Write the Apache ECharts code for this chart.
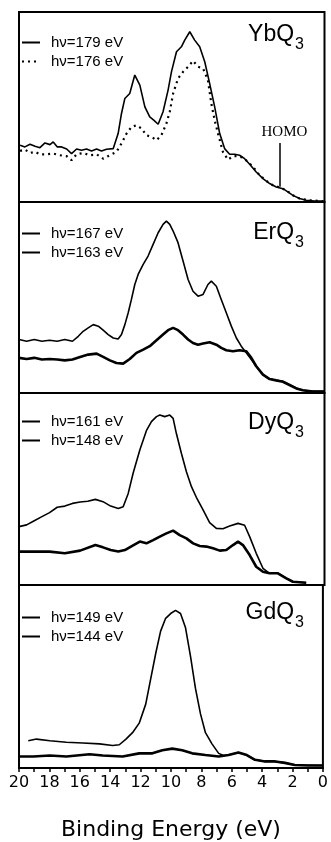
<!DOCTYPE html>
<html>
<head>
<meta charset="utf-8">
<script src="https://cdn.jsdelivr.net/npm/echarts@6/dist/echarts.min.js"></script>
<style>
html,body{margin:0;padding:0;background:#fff;}
#chart{width:331px;height:842px;}
</style>
</head>
<body>
<div id="chart"></div>
<script>
// ---- data: [binding energy (eV), intensity (arb. units, 0-100 of panel)] ----
const panelNames = ['YbQ', 'ErQ', 'DyQ', 'GdQ'];
const seriesNames = [
  ['hν=179 eV', 'hν=176 eV'],
  ['hν=167 eV', 'hν=163 eV'],
  ['hν=161 eV', 'hν=148 eV'],
  ['hν=149 eV', 'hν=144 eV']
];
const xTicks = [20, 18, 16, 14, 12, 10, 8, 6, 4, 2, 0];

const yb179 = [[19.93,29.9],[19.61,29.0],[19.28,30.4],[18.95,29.3],[18.63,28.6],[18.30,31.1],[17.97,30.2],[17.76,31.6],[17.49,29.0],[17.21,29.0],[16.88,27.9],[16.56,25.5],[16.23,27.9],[15.90,27.2],[15.58,27.9],[15.25,26.9],[14.92,27.9],[14.60,26.9],[14.27,27.8],[13.83,28.1],[13.51,36.0],[13.29,46.6],[13.07,54.5],[12.75,57.1],[12.42,66.8],[12.09,61.5],[11.76,50.1],[11.44,44.8],[11.18,43.1],[10.89,40.9],[10.57,47.5],[10.24,58.9],[10.02,68.5],[9.69,79.1],[9.37,81.7],[9.15,85.2],[8.82,89.6],[8.50,85.2],[8.17,81.7],[7.84,73.8],[7.52,62.4],[7.19,50.1],[6.86,36.0],[6.54,28.1],[6.21,25.1],[5.88,25.1],[5.56,24.6],[5.23,22.8],[4.90,19.9],[4.47,15.8],[4.03,12.3],[3.59,9.7],[3.16,7.9],[2.72,7.0],[2.40,5.3],[2.07,3.5],[1.63,1.8],[1.20,0.9],[0.65,0.5],[0.0,0.5]];
const yb176 = [[19.93,26.9],[19.61,27.6],[19.28,25.8],[18.95,26.4],[18.63,25.1],[18.19,25.1],[17.76,25.5],[17.32,24.6],[16.88,24.1],[16.56,22.0],[16.23,25.1],[15.80,25.8],[15.36,24.6],[14.92,25.1],[14.49,22.8],[14.05,24.6],[13.62,26.4],[13.29,30.8],[12.96,36.0],[12.64,39.5],[12.31,40.4],[11.98,38.7],[11.66,35.1],[11.33,34.3],[11.00,32.5],[10.68,35.1],[10.35,41.3],[10.13,47.5],[9.91,57.1],[9.59,65.0],[9.26,68.5],[8.93,71.2],[8.61,74.3],[8.28,71.2],[7.95,70.3],[7.63,64.1],[7.41,51.8],[7.19,43.1],[6.97,36.0],[6.65,26.4],[6.32,22.3],[5.99,24.1],[5.66,24.1],[5.34,23.4],[5.01,21.1],[4.68,18.5],[4.25,14.1],[3.81,11.1],[3.38,8.8],[2.94,7.6],[2.51,6.2],[2.07,3.5],[1.63,1.8],[0.98,0.9],[0.11,0.5]];

const er167 = [[20,28.0],[19.5,27.1],[19.0,28.0],[18.5,27.1],[18.0,27.6],[17.5,27.1],[17.0,28.0],[16.5,27.1],[16.12,29.7],[15.80,32.3],[15.47,34.1],[15.14,35.8],[14.81,35.0],[14.49,32.9],[14.16,30.6],[13.83,28.8],[13.51,28.3],[13.29,30.6],[13.07,35.8],[12.85,42.0],[12.64,49.0],[12.42,56.8],[12.20,62.1],[11.87,67.3],[11.55,71.7],[11.22,77.8],[10.89,83.9],[10.57,88.3],[10.35,90.0],[10.13,88.3],[9.91,84.8],[9.59,78.7],[9.26,69.1],[8.93,59.4],[8.61,53.3],[8.28,50.7],[7.95,51.6],[7.63,56.8],[7.41,58.6],[7.08,55.9],[6.76,49.0],[6.43,42.0],[6.10,35.0],[5.77,28.8],[5.45,24.5],[5.12,21.0],[4.79,17.5],[4.47,14.0],[4.03,9.6],[3.59,7.3],[3.16,6.6],[2.72,6.1],[2.29,4.4],[1.85,2.6],[1.42,1.4],[0.76,0.9],[0,0.9]];
const er163 = [[20,18.4],[19.5,17.8],[19.0,18.4],[18.5,17.5],[18.0,17.8],[17.5,17.5],[17.0,17.1],[16.5,17.5],[16.0,18.9],[15.47,20.1],[14.92,20.6],[14.49,18.9],[14.05,17.1],[13.62,15.7],[13.18,15.4],[12.75,17.8],[12.31,21.0],[11.87,22.7],[11.44,24.5],[11.00,27.6],[10.57,30.6],[10.24,32.9],[9.91,34.1],[9.59,32.9],[9.26,30.6],[8.93,28.0],[8.61,26.2],[8.28,25.3],[7.95,25.9],[7.52,26.6],[7.08,25.3],[6.76,23.6],[6.43,22.4],[5.99,21.9],[5.56,22.4],[5.12,21.9],[4.79,18.4],[4.47,14.0],[4.03,9.6],[3.59,7.3],[3.16,6.6],[2.72,5.9],[2.29,4.2],[1.85,2.4],[1.42,1.4],[0.76,0.7],[0,0.7]];

const dy161 = [[20,30.4],[19.5,31.3],[19.0,33.5],[18.5,35.6],[18.0,37.7],[17.5,40.5],[17.0,41.1],[16.5,42.5],[16.0,43.2],[15.5,43.6],[15.0,44.6],[14.5,43.4],[14.0,41.1],[13.5,39.8],[13.18,40.8],[12.85,47.7],[12.53,58.2],[12.09,70.3],[11.66,80.4],[11.33,85.1],[11.0,87.7],[10.78,88.5],[10.46,87.7],[10.13,88.5],[9.91,86.8],[9.70,79.0],[9.37,68.6],[9.04,59.0],[8.71,51.2],[8.39,45.7],[7.95,39.1],[7.52,32.5],[7.08,29.5],[6.65,29.3],[6.21,30.7],[5.66,32.1],[5.23,31.1],[4.90,25.2],[4.47,16.5],[4.03,8.7],[3.60,6.1],[3.05,6.1],[2.50,3.5],[2.07,1.7],[1.20,1.2]];
const dy148 = [[20,17.4],[19.0,17.4],[18.0,17.4],[17.0,16.5],[16.0,17.9],[15.0,20.8],[14.5,19.6],[14.0,18.2],[13.5,17.4],[13.07,18.2],[12.5,20.8],[12.09,22.6],[11.66,21.7],[11.22,23.4],[10.78,25.2],[10.35,26.9],[9.91,28.3],[9.48,26.0],[9.04,24.3],[8.60,21.7],[8.17,20.3],[7.73,20.0],[7.30,19.1],[6.86,17.9],[6.43,18.2],[5.99,20.8],[5.66,22.6],[5.34,20.8],[4.90,15.6],[4.47,9.5],[4.03,6.9],[3.60,6.1],[3.05,6.1],[2.50,3.5],[2.07,1.7],[1.20,1.2]];

const gd149 = [[19.39,14.9],[18.85,15.8],[17.97,14.9],[16.88,14.1],[15.80,13.7],[14.70,13.2],[13.84,12.3],[13.40,12.7],[12.96,15.8],[12.53,19.3],[12.09,24.5],[11.66,34.9],[11.33,48.8],[11.00,62.7],[10.68,74.8],[10.35,81.8],[10.02,84.4],[9.70,86.1],[9.37,84.4],[9.04,76.6],[8.71,60.9],[8.39,43.6],[8.06,29.7],[7.73,19.3],[7.30,13.2],[6.86,8.0],[6.54,6.8],[6.21,7.1],[5.56,8.5],[5.01,7.1],[4.47,4.5],[3.81,3.6],[3.16,3.6],[2.50,2.8],[1.85,1.6],[0,1.4]];
const gd144 = [[20,6.3],[19.06,6.3],[17.97,6.8],[16.88,6.3],[15.36,7.5],[14.49,6.8],[13.18,6.3],[12.09,8.0],[11.22,8.0],[10.57,9.7],[9.91,10.6],[9.26,9.7],[8.60,8.0],[7.73,7.1],[6.86,6.3],[6.21,7.1],[5.56,8.5],[5.01,7.1],[4.47,4.5],[3.81,3.6],[3.16,3.6],[2.50,2.8],[1.85,1.6],[0.98,1.4],[0,1.4]];

const homoEnergy = 2.95;
const homoRange = [8, 31];

const panelData = [[yb179, yb176],[er167, er163],[dy161, dy148],[gd149, gd144]];

// ---- layout ----
const panelTops = [12, 202, 393, 585];
const panelHeights = [190, 191, 192, 192];
const gridLeft = 19, gridRight = 6.5;
const legendTops = [30, 221, 409, 605];
const titleTops = [18, 216, 406, 596];

const chart = echarts.init(document.getElementById('chart'), null, {renderer: 'canvas'});

const grid = [], xAxis = [], yAxis = [], series = [], legend = [], title = [];
for (let i = 0; i < 4; i++) {
  grid.push({left: gridLeft, right: gridRight, top: panelTops[i], height: panelHeights[i],
    show: true, borderColor: '#000', borderWidth: 2, backgroundColor: 'transparent'});
  const last = i === 3;
  xAxis.push({
    gridIndex: i, type: 'value', min: 0, max: 20, interval: 1, inverse: true,
    axisLine: {show: last, onZero: false, lineStyle: {color: '#000', width: 2}},
    axisTick: {show: last, length: 4, lineStyle: {color: '#000', width: 1.5}},
    axisLabel: {show: last, margin: 7, color: '#000', fontSize: 16, fontFamily: 'DejaVu Sans',
      formatter: v => (xTicks.indexOf(v) >= 0 ? String(v) : '')},
    splitLine: {show: false},
    name: last ? 'Binding Energy (eV)' : '',
    nameLocation: 'middle', nameGap: 51,
    nameTextStyle: {color: '#000', fontSize: 22, fontFamily: 'DejaVu Sans'}
  });
  yAxis.push({gridIndex: i, type: 'value', min: 0, max: 100, show: false});
  const dotted = i === 0;
  series.push({
    name: seriesNames[i][0], type: 'line', xAxisIndex: i, yAxisIndex: i,
    data: panelData[i][0], symbol: 'none', animation: false,
    lineStyle: {color: '#000', width: 1.6},
    itemStyle: {color: '#000'},
    markLine: i === 0 ? {
      silent: true, symbol: 'none', animation: false,
      lineStyle: {color: '#000', width: 1.5, type: 'solid'},
      label: {show: true, position: 'end', formatter: 'HOMO', color: '#000', fontSize: 15,
        fontFamily: 'Liberation Serif', distance: 4, offset: [5, 0]},
      data: [[{coord: [homoEnergy, homoRange[0]]}, {coord: [homoEnergy, homoRange[1]]}]]
    } : undefined
  });
  series.push({
    name: seriesNames[i][1], type: 'line', xAxisIndex: i, yAxisIndex: i,
    data: panelData[i][1], symbol: 'none', animation: false,
    lineStyle: dotted ? {color: '#000', width: 2.2, type: [2, 4]} : {color: '#000', width: 2.6},
    itemStyle: {color: '#000'}
  });
  legend.push({
    data: seriesNames[i], left: 16, top: legendTops[i], orient: 'vertical',
    itemWidth: 18, itemHeight: 14, itemGap: 4, selectedMode: false,
    itemStyle: {opacity: 0, color: 'rgba(0,0,0,0)', borderWidth: 0},
    textStyle: {color: '#000', fontSize: 15, fontFamily: 'Liberation Sans', padding: [0, 0, 0, 6]}
  });
  title.push({
    text: '{a|' + panelNames[i] + '}{b|3}', right: 22, top: titleTops[i],
    textStyle: {fontWeight: 'normal', rich: {
      a: {fontSize: 23, fontFamily: 'Liberation Sans', fontWeight: 'normal', color: '#000', lineHeight: 24, verticalAlign: 'top'},
      b: {fontSize: 16, fontFamily: 'Liberation Sans', fontWeight: 'normal', color: '#000', lineHeight: 16, verticalAlign: 'top', padding: [14, 0, 0, 1]}
    }}
  });
}

chart.setOption({animation: false, backgroundColor: '#fff', grid, xAxis, yAxis, series, legend, title});
</script>
</body>
</html>
